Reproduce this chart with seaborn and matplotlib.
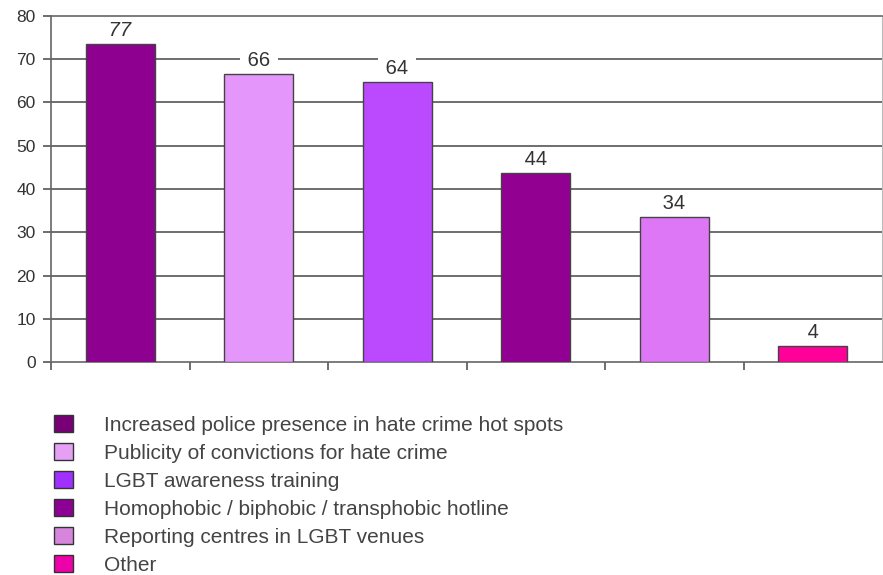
import pandas as pd
import seaborn as sns
import matplotlib.pyplot as plt
from matplotlib.patches import Patch

sns.set_style('white')
plt.rcParams['font.family'] = ['Liberation Sans', 'DejaVu Sans']

# data
categories = ['Increased police presence in hate crime hot spots',
              'Publicity of convictions for hate crime',
              'LGBT awareness training',
              'Homophobic / biphobic / transphobic hotline',
              'Reporting centres in LGBT venues',
              'Other']
heights = [73.5, 66.5, 64.7, 43.7, 33.6, 3.6]
value_labels = ['77', '66', '64', '44', '34', '4']
bar_colors = ['#8e0090', '#e596fb', '#bb4aff', '#910090', '#dd77f5', '#ff0099']
legend_colors = ['#770077', '#e5a0f5', '#a030ff', '#8c0096', '#d684dc', '#ee00aa']
yticks = [0, 10, 20, 30, 40, 50, 60, 70, 80]

df = pd.DataFrame({'category': categories, 'value': heights})

fig = plt.figure(figsize=(8.83, 5.75), dpi=100)
ax = fig.add_axes([0.0578, 0.3704, 0.9411, 0.6018])

sns.barplot(data=df, x='category', y='value', hue='category', palette=bar_colors,
            saturation=1, width=0.5, edgecolor='#444444', linewidth=1,
            legend=False, ax=ax, zorder=3)

# gridlines
for y in yticks[1:-1]:
    ax.axhline(y, color='#555555', linewidth=1.2, zorder=1)

ax.set_ylim(0, 80)
ax.set_xlim(-0.5, 5.5)
ax.set_yticks(yticks)
ax.set_yticklabels([str(t) for t in yticks], fontsize=12.5, color='#333333')
ax.set_xticks([-0.5, 0.5, 1.5, 2.5, 3.5, 4.5])
ax.set_xticklabels([])
ax.tick_params(axis='x', bottom=True, length=6, color='#555555', width=1.2, direction='out')
ax.tick_params(axis='y', left=True, length=6, color='#555555', width=1.2, direction='out', pad=5)
ax.set_xlabel('')
ax.set_ylabel('')

for s in ['left', 'bottom', 'top']:
    ax.spines[s].set_color('#666666')
    ax.spines[s].set_linewidth(1.2)
ax.spines['right'].set_color('#bbbbbb')

# value labels (white box cuts the gridlines like the original)
bars = sorted([p for p in ax.patches if p.get_height() > 0], key=lambda p: p.get_x())
for i, (bar, lab) in enumerate(zip(bars, value_labels)):
    ax.annotate(f' {lab} ', (bar.get_x() + bar.get_width() / 2, bar.get_height()),
                xytext=(0, 3), textcoords='offset points', ha='center', va='bottom',
                fontsize=14.5, color='#333333', zorder=4,
                style='italic' if i == 0 else 'normal',
                bbox=dict(facecolor='white', edgecolor='none', pad=1.5))

# legend
handles = [Patch(facecolor=c, edgecolor='#333333', linewidth=1) for c in legend_colors]
fig.legend(handles, categories, loc='upper left', bbox_to_anchor=(0.061, 0.278),
           frameon=False, fontsize=15, handlelength=0.9, handleheight=0.9,
           handletextpad=1.5, labelspacing=0.39, borderpad=0, borderaxespad=0,
           labelcolor='#444444')

fig.savefig('out.png', dpi=100)
